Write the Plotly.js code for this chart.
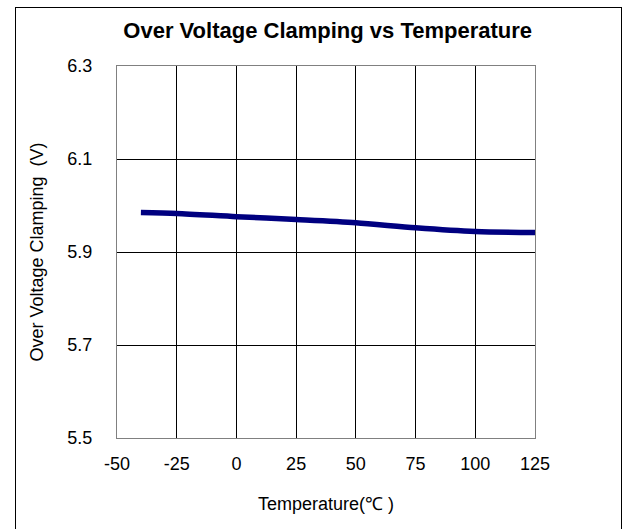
<!DOCTYPE html>
<html>
<head>
<meta charset="utf-8">
<script src="https://cdn.plot.ly/plotly-3.0.1.min.js"></script>
<style>
html,body{margin:0;padding:0;overflow:hidden;background:#fff;}
#wrap{position:relative;width:623px;height:529px;overflow:hidden;}
#frame{position:absolute;left:15px;top:7px;width:605px;height:560px;border:1px solid #000;pointer-events:none;z-index:5;}
#chart{position:absolute;left:0;top:0;width:623px;height:529px;}
</style>
</head>
<body>
<div id="wrap"><div id="chart"></div><div id="frame"></div></div>
<script>
const temperature = [-40, -25, 0, 25, 50, 75, 100, 125];
const clampingV = [5.985, 5.983, 5.976, 5.970, 5.963, 5.952, 5.944, 5.942];
const xTicks = [-50, -25, 0, 25, 50, 75, 100, 125];
const yTicks = [5.5, 5.7, 5.9, 6.1, 6.3];

const font = 'Arial, "Liberation Sans", sans-serif';
Plotly.newPlot('chart', [{
  x: temperature, y: clampingV, type: 'scatter', mode: 'lines',
  line: {color: '#000080', width: 5.5, shape: 'spline', smoothing: 0.8},
  hoverinfo: 'skip'
}], {
  width: 623, height: 529,
  margin: {l: 117, r: 88, t: 66, b: 91},
  paper_bgcolor: '#fff', plot_bgcolor: '#fff',
  showlegend: false,
  title: {text: '<b>Over Voltage Clamping vs Temperature</b>', font: {family: font, size: 22, color: '#000'}, x: 0.526, xanchor: 'center', y: 0.942, yanchor: 'middle'},
  xaxis: {
    range: [-50, 125], tickvals: xTicks, ticktext: xTicks.map(String),
    showgrid: true, gridcolor: '#000', gridwidth: 1, zeroline: false,
    showline: true, linecolor: '#808080', linewidth: 1, mirror: true,
    ticks: 'outside', ticklen: 9, tickcolor: 'rgba(0,0,0,0)',
    tickfont: {family: font, size: 18, color: '#000'},
    title: {text: 'Temperature(℃ )', font: {family: font, size: 18, color: '#000'}, standoff: 24}
  },
  yaxis: {
    range: [5.5, 6.3], tickvals: yTicks, ticktext: yTicks.map(v => v.toFixed(1)),
    showgrid: true, gridcolor: '#000', gridwidth: 1, zeroline: false,
    showline: true, linecolor: '#808080', linewidth: 1, mirror: true,
    ticks: 'outside', ticklen: 20, tickcolor: 'rgba(0,0,0,0)',
    tickfont: {family: font, size: 18, color: '#000'},
    title: {text: 'Over Voltage Clamping  (V)', font: {family: font, size: 18, color: '#000'}, standoff: 19}
  }
}, {staticPlot: true, displayModeBar: false});
</script>
</body>
</html>
